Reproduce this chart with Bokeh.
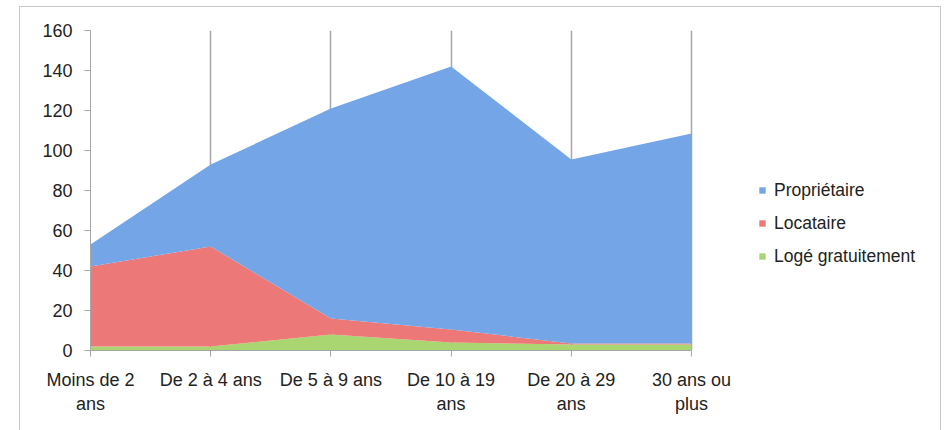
import numpy as np
from bokeh.plotting import figure
from bokeh.models import Range1d, FixedTicker, Legend, LegendItem
from bokeh.embed import file_html
from bokeh.resources import INLINE

categories = ["Moins de 2\nans", "De 2 à 4 ans", "De 5 à 9 ans", "De 10 à 19\nans", "De 20 à 29\nans", "30 ans ou\nplus"]
loge_gratuitement = [2, 2, 8, 4, 3, 3]
locataire = [40, 50, 8, 6.5, 0.5, 0.5]
proprietaire = [11, 41, 105, 131.5, 92, 105]
y_ticks = [0, 20, 40, 60, 80, 100, 120, 140, 160]

x = np.arange(len(categories))
g = np.array(loge_gratuitement, dtype=float)
r = g + np.array(locataire, dtype=float)
b = r + np.array(proprietaire, dtype=float)

FONT = "Liberation Sans"
AXIS_GREY = "#a6a6a6"

W, H = 922, 430
LEFT, RIGHT, TOP, BOTTOM = 70, 10, 23, 87
frame_w = W - LEFT - RIGHT
px_per_cat = 120.2  # spacing between categories in pixels
x_end = frame_w / px_per_cat

p = figure(width=W, height=H, output_backend="svg", toolbar_location=None,
           x_range=Range1d(0, x_end), y_range=Range1d(0, 160),
           min_border_left=LEFT, min_border_right=RIGHT, min_border_top=TOP, min_border_bottom=BOTTOM)
p.styles = {"margin-left": "19px", "margin-top": "6px", "border": "1px solid #c8c8c8"}
p.outline_line_color = None
p.background_fill_color = "white"

green = p.varea(x=x, y1=np.zeros_like(g), y2=g, fill_color="#a9d670")
red = p.varea(x=x, y1=g, y2=r, fill_color="#ec7878")
blue = p.varea(x=x, y1=r, y2=b, fill_color="#74a5e6")

# axes
p.xaxis.ticker = FixedTicker(ticks=list(x))
p.xaxis.bounds = (0, len(categories) - 1)
p.xaxis.major_label_overrides = {int(i): c for i, c in zip(x, categories)}
p.yaxis.ticker = FixedTicker(ticks=y_ticks)
for ax in (p.xaxis[0], p.yaxis[0]):
    ax.axis_line_color = AXIS_GREY
    ax.major_tick_line_color = AXIS_GREY
    ax.minor_tick_line_color = None
    ax.major_tick_out = 6
    ax.major_tick_in = 0
    ax.major_label_text_font = FONT
    ax.major_label_text_font_size = "18px"
    ax.major_label_text_color = "#222222"
p.yaxis.major_label_standoff = 12
p.xaxis.major_label_standoff = 13

p.ygrid.grid_line_color = None
p.xgrid.ticker = FixedTicker(ticks=list(x[1:]))
p.xgrid.grid_line_color = AXIS_GREY
p.xgrid.grid_line_width = 1.5
p.xgrid.level = "underlay"

legend = Legend(items=[
    LegendItem(label="Propriétaire", renderers=[blue]),
    LegendItem(label="Locataire", renderers=[red]),
    LegendItem(label="Logé gratuitement", renderers=[green]),
], location=(668, 79))
legend.border_line_color = None
legend.background_fill_alpha = 0
legend.glyph_width = 8
legend.glyph_height = 8
legend.label_height = 30
legend.spacing = 3
legend.padding = 5
legend.margin = 0
legend.label_standoff = 8
legend.label_text_font = FONT
legend.label_text_font_size = "17.5px"
legend.label_text_color = "#222222"
p.add_layout(legend, "center")

open("out.html", "w").write(file_html(p, INLINE))
